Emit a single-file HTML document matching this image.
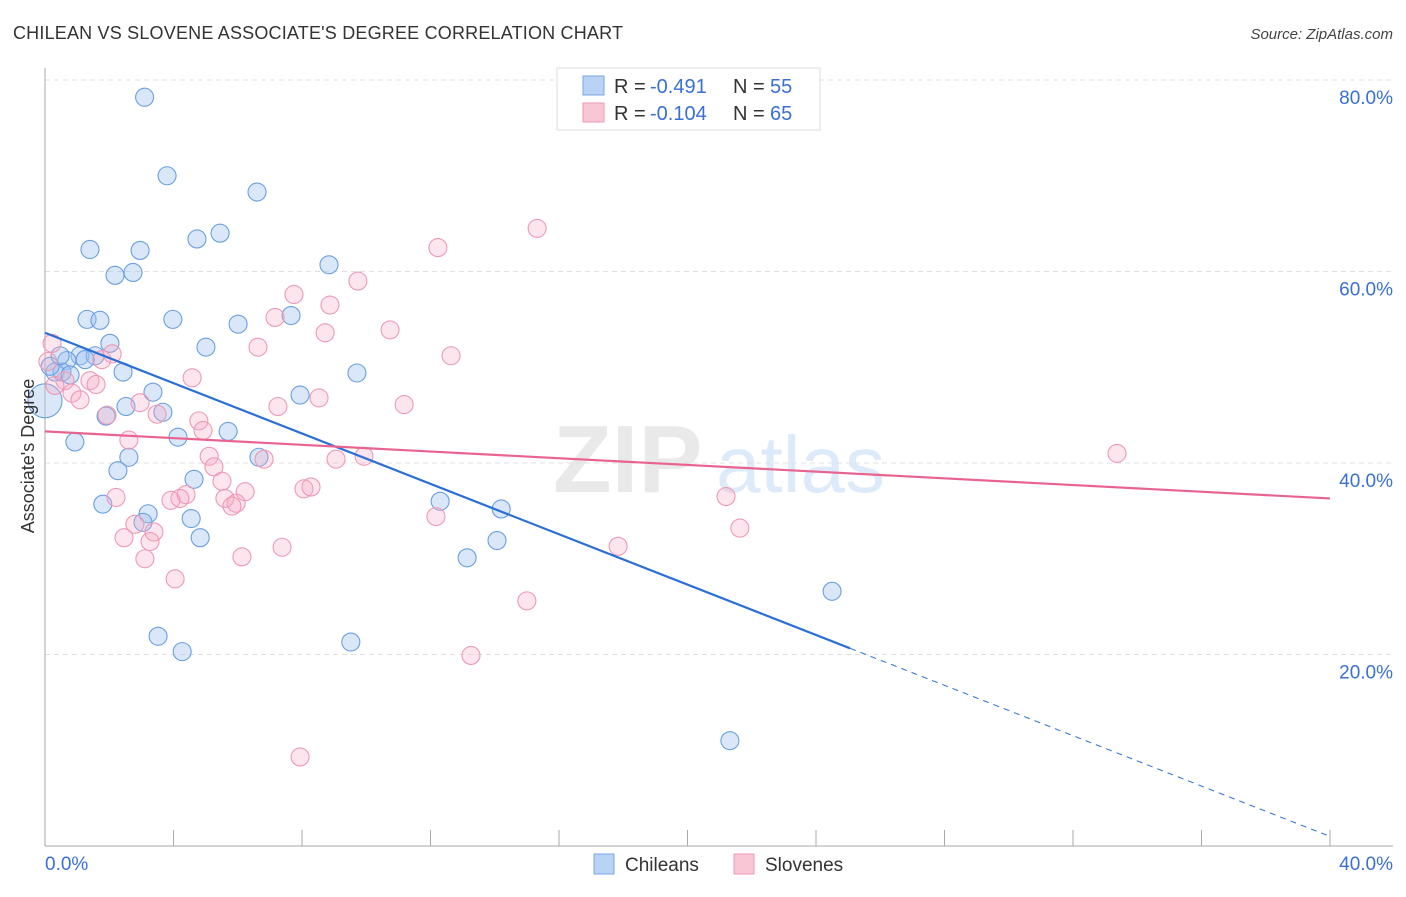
<!DOCTYPE html>
<html><head><meta charset="utf-8"><style>
body{margin:0;background:#fff;font-family:"Liberation Sans",sans-serif}
svg text{font-family:"Liberation Sans",sans-serif}
</style></head><body>
<svg id="chart" width="1406" height="892" xmlns="http://www.w3.org/2000/svg">
<text x="13" y="39" font-size="18" fill="#333" textLength="610">CHILEAN VS SLOVENE ASSOCIATE'S DEGREE CORRELATION CHART</text>
<text x="1393" y="39" font-size="15" fill="#444" font-style="italic" text-anchor="end">Source: ZipAtlas.com</text>
<g opacity="0.18">
<text x="553" y="492" font-size="96" font-family="Liberation Serif" fill="#888" font-weight="bold">ZIP</text>
<text x="716" y="492" font-size="80" fill="#4a90e0">atlas</text>
</g>
<g id="grid"></g>
<g id="marks"></g>
<text transform="translate(34,456) rotate(-90)" font-size="18" fill="#333" text-anchor="middle">Associate's Degree</text>
<g>
<rect x="557" y="68" width="263" height="62" fill="#fff" stroke="#ddd"/>
<rect x="583" y="76" width="21" height="19" fill="#b9d3f5" stroke="#7aa7e6"/>
<rect x="583" y="103" width="21" height="19" fill="#f9c6d5" stroke="#ee9ab4"/>
<text x="614" y="93" font-size="20" fill="#333">R = </text>
<text x="650" y="93" font-size="20" fill="#3a70d4">-0.491</text>
<text x="733" y="93" font-size="20" fill="#333">N = </text>
<text x="770" y="93" font-size="20" fill="#3a70d4">55</text>
<text x="614" y="120" font-size="20" fill="#333">R = </text>
<text x="650" y="120" font-size="20" fill="#3a70d4">-0.104</text>
<text x="733" y="120" font-size="20" fill="#333">N = </text>
<text x="770" y="120" font-size="20" fill="#3a70d4">65</text>
</g>
<g>
<rect x="594" y="854" width="20" height="20" fill="#b9d3f5" stroke="#7aa7e6"/>
<text x="625" y="871" font-size="19" fill="#333">Chileans</text>
<rect x="734" y="854" width="20" height="20" fill="#f9c6d5" stroke="#ee9ab4"/>
<text x="765" y="871" font-size="19" fill="#333">Slovenes</text>
</g>
</svg>
<script>
const yTicks=[20,40,60,80];
const xTickLabels=["0.0%","40.0%"];
const blueX=[3.1,3.8,6.6,1.4,2.96,4.73,5.45,2.18,2.74,8.84,1.31,1.71,3.98,6.01,7.66,2.02,5.01,1.09,1.56,0.68,1.25,0.31,0.53,0.78,2.43,9.71,3.36,7.94,2.52,1.9,3.67,4.14,5.7,0.93,2.61,6.66,2.27,4.64,1.8,3.21,4.83,3.05,4.55,12.3,14.2,14.07,13.14,24.5,3.52,4.27,9.52,21.32,0,0.16,0.47];
const blueY=[78.2,70.0,68.3,62.3,62.2,63.4,64.0,59.6,59.9,60.7,55.0,54.9,55.0,54.5,55.4,52.5,52.1,51.2,51.2,50.7,50.8,49.5,49.5,49.2,49.5,49.4,47.4,47.1,45.9,44.9,45.3,42.7,43.3,42.2,40.6,40.6,39.2,38.3,35.7,34.7,32.2,33.8,34.2,36.0,35.2,31.9,30.1,26.6,21.9,20.3,21.3,11.0,46.5,50.1,51.2];
const pinkX=[15.32,12.23,9.74,7.75,8.87,7.16,10.74,8.72,6.63,12.64,0.22,2.09,1.77,0.62,1.4,4.58,1.59,8.53,11.18,7.25,2.96,0.84,1.93,3.49,1.09,4.79,4.92,2.61,33.37,5.11,5.26,6.82,9.06,9.93,5.51,6.23,8.06,8.28,4.39,4.2,3.92,5.6,5.95,5.82,2.21,12.17,21.2,21.63,2.8,3.39,2.46,3.27,7.38,3.11,6.13,17.84,4.05,15.0,13.26,7.94,0.31,0.09];
const pinkY=[64.5,62.5,59.0,57.6,56.5,55.2,53.9,53.6,52.1,51.2,52.5,51.4,50.8,48.6,48.6,48.9,48.2,46.8,46.1,45.9,46.3,47.3,45.0,45.1,46.6,44.4,43.4,42.4,41.0,40.7,39.6,40.4,40.4,40.7,38.1,37.0,37.3,37.5,36.7,36.3,36.1,36.3,35.8,35.5,36.4,34.4,36.5,33.2,33.6,32.8,32.2,31.8,31.2,30.0,30.2,31.3,27.9,25.6,19.9,9.3,48.1,50.6];
const blueTrend=[53.6,1.0], pinkTrend=[43.3,36.3], blueSolidEnd=25.06;
const X=v=>45+v*32.125, Y=v=>846-v*9.575;
const NS="http://www.w3.org/2000/svg";
function mk(tag,attrs,parent){const e=document.createElementNS(NS,tag);for(const k in attrs)e.setAttribute(k,attrs[k]);parent.appendChild(e);return e;}
const grid=document.getElementById('grid'), marks=document.getElementById('marks');
yTicks.forEach(t=>{
 const l=mk('line',{x1:45,x2:1393,y1:Y(t),y2:Y(t),stroke:'#e0e0e0','stroke-dasharray':'5,4'},grid);
 
 
 const tx=mk('text',{x:1393,y:Y(t)+24,'font-size':19,fill:'#3a70d4','text-anchor':'end'},grid);
 tx.textContent=t.toFixed(1)+'%';
 
 
});
const ax=mk('line',{x1:45,x2:45,y1:68,y2:846,stroke:'#aaa'},grid);


const bx=mk('line',{x1:45,x2:1393,y1:846,y2:846,stroke:'#aaa'},grid);


for(let i=0;i<=10;i++){const t=mk('line',{x1:X(i*4),x2:X(i*4),y1:830,y2:846,stroke:'#aaa'},grid);
 
 }
const xl0=mk('text',{x:45,y:870,'font-size':19,fill:'#3a70d4'},grid);xl0.textContent=xTickLabels[0];


const xl1=mk('text',{x:1393,y:870,'font-size':19,fill:'#3a70d4','text-anchor':'end'},grid);xl1.textContent=xTickLabels[1];


blueX.forEach((x,i)=>{const c=mk('circle',{cx:X(x),cy:Y(blueY[i]),r:(i==52?17:9),fill:'rgba(160,196,240,0.4)',stroke:'#6a9fe0','stroke-width':1.1},marks);
 
 });
pinkX.forEach((x,i)=>{const c=mk('circle',{cx:X(x),cy:Y(pinkY[i]),r:9,fill:'rgba(245,170,195,0.3)',stroke:'#ee9ab4','stroke-width':1.1},marks);
 
 });
const bAt=v=>blueTrend[0]+(blueTrend[1]-blueTrend[0])*v/40;
const b1=mk('line',{x1:X(0),y1:Y(blueTrend[0]),x2:X(blueSolidEnd),y2:Y(bAt(blueSolidEnd)),stroke:'#2b6fd6','stroke-width':2.2},marks);


const b2=mk('line',{x1:X(blueSolidEnd),y1:Y(bAt(blueSolidEnd)),x2:X(40),y2:Y(blueTrend[1]),stroke:'#2b6fd6','stroke-width':1,'stroke-dasharray':'6,5'},marks);


const p1=mk('line',{x1:X(0),y1:Y(pinkTrend[0]),x2:X(40),y2:Y(pinkTrend[1]),stroke:'#e8648f','stroke-width':2.2},marks);


</script>
</body></html>
